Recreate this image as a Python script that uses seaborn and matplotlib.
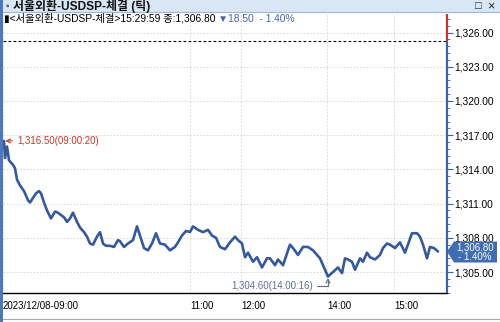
import matplotlib
matplotlib.use("Agg")
import matplotlib.pyplot as plt
import seaborn as sns
import pandas as pd
from matplotlib.ticker import FixedLocator, MultipleLocator, FuncFormatter
from matplotlib.patches import Polygon, Rectangle
from matplotlib.lines import Line2D

# ---------------- data ----------------
seq = [1, 2, 4, 6, 8, 10, 12, 14, 17, 21, 25, 27, 30, 33, 36, 38, 41, 44, 48, 52,
       55, 58, 61, 64, 67, 70, 74, 77, 81, 84, 87, 90, 94, 97, 100, 103, 107, 111, 115, 117,
       121, 125, 130, 134, 137, 141, 145, 149, 153, 157, 162, 167, 172, 175, 179, 183, 187, 190, 195, 200,
       205, 209, 213, 217, 222, 227, 232, 235, 239, 242, 245, 250, 254, 259, 264, 267, 272, 275, 280, 287,
       290, 295, 300, 305, 310, 317, 322, 325, 330, 335, 339, 342, 345, 349, 352, 357, 360, 364, 367, 372,
       377, 380, 384, 387, 392, 397, 402, 409, 414, 417, 420, 424, 427, 431, 435]
price = [1316.5, 1315.0, 1316.0, 1314.8, 1314.6, 1314.4, 1314.1, 1313.1, 1312.6, 1312.1,
         1311.3, 1311.1, 1311.5, 1311.9, 1312.1, 1311.9, 1311.1, 1310.4, 1309.7, 1310.3,
         1310.2, 1310.0, 1309.8, 1309.4, 1309.7, 1310.2, 1309.4, 1308.9, 1308.5, 1308.1,
         1307.5, 1307.4, 1308.1, 1308.5, 1307.5, 1307.3, 1307.3, 1307.2, 1307.8, 1307.7,
         1307.2, 1307.5, 1307.8, 1309.0, 1308.2, 1307.1, 1306.9, 1307.5, 1308.4, 1307.5,
         1307.4, 1306.9, 1307.2, 1307.6, 1308.2, 1308.6, 1308.5, 1309.0, 1308.7, 1308.5,
         1308.7, 1308.2, 1308.0, 1307.2, 1307.0, 1307.6, 1308.1, 1307.8, 1307.5, 1306.3,
         1306.7, 1305.9, 1306.3, 1305.4, 1306.2, 1306.2, 1305.6, 1306.1, 1305.6, 1307.4,
         1307.1, 1306.5, 1307.2, 1307.2, 1306.9, 1306.2, 1305.2, 1304.6, 1305.0, 1305.4,
         1304.9, 1306.2, 1306.1, 1305.9, 1305.2, 1306.2, 1305.9, 1306.7, 1306.3, 1306.1,
         1306.5, 1307.1, 1307.5, 1307.4, 1307.1, 1307.6, 1306.7, 1308.4, 1308.4, 1308.1,
         1307.4, 1306.2, 1307.2, 1307.1, 1306.8]

time_tick_pos = [0, 187, 238, 324, 391]
time_tick_labels = ["2023/12/08-09:00", "11:00", "12:00", "14:00", "15:00"]
y_ticks = [1305, 1308, 1311, 1314, 1317, 1320, 1323, 1326]
prev_close = 1325.30
last_price = 1306.80
change_txt = "▼18.50  - 1.40%"
high_label = "1,316.50(09:00:20)"
low_label = "1,304.60(14:00:16)"
title_txt = "서울외환-USDSP-체결 (틱)"
info_txt = "▮<서울외환-USDSP-체결>15:29:59 종:1,306.80 "

# ---------------- style ----------------
sns.set_style("white")
plt.rcParams['font.family'] = ['Liberation Sans', 'Noto Sans CJK KR', 'DejaVu Sans']

LINE = "#35599b"
RED = "#c0392b"
AXBLUE = "#3a62a8"
W, H = 500, 322

def fx(px):
    return px / W

def fy(py):
    return 1 - py / H

fig = plt.figure(figsize=(5, 3.22), dpi=100)
fig.patch.set_facecolor("white")

ax = fig.add_axes([fx(3), fy(293), fx(447) - fx(3), fy(14) - fy(293)])
ax.set_facecolor("white")

df = pd.DataFrame({"seq": seq, "price": price})
sns.lineplot(data=df, x="seq", y="price", ax=ax, color=LINE, linewidth=1.9,
             sort=False, estimator=None, legend=False)

ylo, yhi = 1303.16, 1327.63
ax.set_xlim(0, 444)
ax.set_ylim(ylo, yhi)
ax.set_xlabel("")
ax.set_ylabel("")

ax.xaxis.set_major_locator(FixedLocator(time_tick_pos))
ax.set_xticklabels(time_tick_labels)
for lab in ax.get_xticklabels():
    lab.set_horizontalalignment("left")
ax.tick_params(axis="x", direction="in", length=4, width=0.8, color="black",
               labelsize=7, pad=6, labelcolor="black")

ax.yaxis.tick_right()
ax.yaxis.set_major_locator(FixedLocator(y_ticks))
ax.yaxis.set_minor_locator(MultipleLocator(0.6))
ax.yaxis.set_major_formatter(FuncFormatter(lambda v, p: f"{v:,.2f}"))
ax.tick_params(axis="y", which="major", direction="out", length=4, width=0.8,
               color=AXBLUE, labelsize=7.3, pad=1, labelcolor="black")
ax.tick_params(axis="y", which="minor", direction="out", length=2, width=0.6, color=AXBLUE)

ax.grid(True, which="major", linestyle=(0, (2, 2)), color="#d4d4d4", linewidth=0.6)

for s in ["left", "top", "right"]:
    ax.spines[s].set_visible(False)
ax.spines["bottom"].set_color("black")
ax.spines["bottom"].set_linewidth(1.0)

# previous close line
ax.axhline(prev_close, color="black", linestyle=(0, (2.5, 2)), linewidth=0.8)

# right axis line: red above previous close, blue below
ax.vlines(444, prev_close, yhi, color=RED, linewidth=1.6, clip_on=False, zorder=5)
ax.vlines(444, ylo, prev_close, color=AXBLUE, linewidth=1.6, clip_on=False, zorder=5)

# high / low annotations
ax.annotate(high_label, xy=(seq[0], price[0]), xytext=(9.5, 0), textcoords="offset points",
            ha="left", va="center", fontsize=7, color=RED,
            arrowprops=dict(arrowstyle="->", color=RED, lw=0.8, shrinkA=1, shrinkB=1))
imin = price.index(min(price))
ax.annotate(low_label, xy=(seq[imin], price[imin]), xytext=(-11, -6.5), textcoords="offset points",
            ha="right", va="center", fontsize=7, color="#5b6f94",
            arrowprops=dict(arrowstyle="->", color="#5b6f94", lw=0.8, shrinkA=1, shrinkB=1,
                            connectionstyle="angle,angleA=0,angleB=90,rad=0"))

# ---------------- window chrome ----------------
fig.patches.append(Rectangle((0, fy(12)), 1, 1 - fy(12), transform=fig.transFigure,
                             facecolor="#d8e6f5", edgecolor="none", zorder=0))
fig.add_artist(Line2D([0, 1], [fy(12), fy(12)], transform=fig.transFigure, color="#9fb8d8", lw=0.8))
fig.patches.append(Rectangle((0, 0), fx(2.5), 1, transform=fig.transFigure,
                             facecolor="#4f78b8", edgecolor="none", zorder=3))
fig.add_artist(Line2D([0, 1], [fy(319), fy(319)], transform=fig.transFigure, color="#a8a8a8", lw=0.8))

fig.text(fx(13), fy(6), title_txt, fontsize=8.6, fontweight="bold", va="center", ha="left", color="#111111")
fig.text(fx(5), fy(6), "▪", fontsize=7, va="center", ha="left", color="#3a62a8")
fig.text(fx(478), fy(6), "□", fontsize=8, va="center", ha="center", color="#222222")
fig.text(fx(491), fy(6), "×", fontsize=9, va="center", ha="center", color="#222222")

t1 = fig.text(fx(4), fy(18.5), info_txt, fontsize=7.4, va="center", ha="left", color="black")
fig.canvas.draw()
bb = t1.get_window_extent(renderer=fig.canvas.get_renderer())
fig.text(bb.x1 / W, fy(18.5), change_txt, fontsize=7.4, va="center", ha="left", color="#4a64a8")

# current price box
yp = ax.transData.transform((0, last_price))[1]  # display pixels from bottom
yp_top = H - yp
box = [(447, yp_top), (454, yp_top - 10), (497, yp_top - 10), (497, yp_top + 11), (454, yp_top + 11)]
fig.patches.append(Polygon([(fx(x), fy(y)) for x, y in box], closed=True, transform=fig.transFigure,
                           facecolor="#3f6db2", edgecolor="none", zorder=10))
fig.text(fx(475), fy(yp_top - 4), f"{last_price:,.2f}", fontsize=7, color="white",
         ha="center", va="center", zorder=11)
fig.text(fx(475), fy(yp_top + 6), "- 1.40%", fontsize=7, color="white",
         ha="center", va="center", zorder=11)

fig.savefig("out.png", dpi=100, facecolor="white")
